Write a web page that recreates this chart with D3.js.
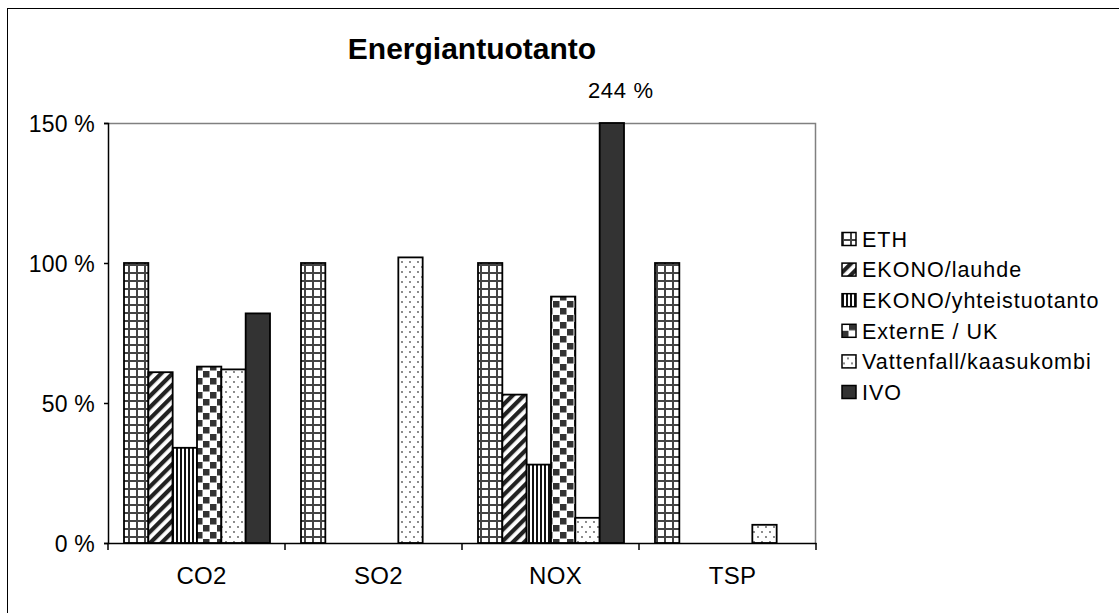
<!DOCTYPE html>
<html>
<head>
<meta charset="utf-8">
<script src="https://cdn.jsdelivr.net/npm/d3@7"></script>
<style>
  html, body { margin: 0; padding: 0; background: #fff; }
  svg { display: block; }
  text { font-family: "Liberation Sans", Arial, sans-serif; fill: #000; }
</style>
</head>
<body>
<script>
const categories = ["CO2", "SO2", "NOX", "TSP"];
const seriesNames = ["ETH", "EKONO/lauhde", "EKONO/yhteistuotanto", "ExternE / UK", "Vattenfall/kaasukombi", "IVO"];
const ethValues = [100, 100, 100, 100];
const lauhdeValues = [61, null, 53, null];
const yhteisValues = [34, null, 28, null];
const externValues = [63, null, 88, null];
const vattenfallValues = [62, 102, 9, 6.5];
const ivoValues = [82, null, 244, null];
const yTicks = [0, 50, 100, 150];
const yTickLabels = ["0 %", "50 %", "100 %", "150 %"];
const titleText = "Energiantuotanto";

const seriesValues = [ethValues, lauhdeValues, yhteisValues, externValues, vattenfallValues, ivoValues];
const patternIds = ["pEth", "pLauhde", "pYhteis", "pExtern", "pVatten", "pIvo"];

const W = 1119, H = 613;
const svg = d3.select("body").append("svg").attr("width", W).attr("height", H);

// patterns
const defs = svg.append("defs");
{
  const p = defs.append("pattern").attr("id", "pEth").attr("patternUnits", "userSpaceOnUse")
    .attr("width", 8).attr("height", 8);
  p.append("rect").attr("width", 8).attr("height", 8).attr("fill", "#fff");
  p.append("rect").attr("x", 0).attr("y", 0).attr("width", 8).attr("height", 2).attr("fill", "#444");
  p.append("rect").attr("x", 0).attr("y", 0).attr("width", 2).attr("height", 8).attr("fill", "#444");
}
{
  const p = defs.append("pattern").attr("id", "pLauhde").attr("patternUnits", "userSpaceOnUse")
    .attr("width", 8).attr("height", 8).attr("patternTransform", "rotate(45)");
  p.append("rect").attr("width", 8).attr("height", 8).attr("fill", "#fff");
  p.append("rect").attr("x", 0).attr("y", 0).attr("width", 4.2).attr("height", 8).attr("fill", "#222");
}
{
  const p = defs.append("pattern").attr("id", "pYhteis").attr("patternUnits", "userSpaceOnUse")
    .attr("width", 4).attr("height", 4);
  p.append("rect").attr("width", 4).attr("height", 4).attr("fill", "#fff");
  p.append("rect").attr("x", 0).attr("y", 0).attr("width", 2).attr("height", 4).attr("fill", "#111");
}
{
  const p = defs.append("pattern").attr("id", "pExtern").attr("patternUnits", "userSpaceOnUse")
    .attr("width", 14).attr("height", 14);
  p.append("rect").attr("width", 14).attr("height", 14).attr("fill", "#fff");
  p.append("rect").attr("x", 0).attr("y", 0).attr("width", 6.5).attr("height", 6.5).attr("fill", "#333");
  p.append("rect").attr("x", 7).attr("y", 7).attr("width", 6.5).attr("height", 6.5).attr("fill", "#333");
}
{
  const p = defs.append("pattern").attr("id", "pVatten").attr("patternUnits", "userSpaceOnUse")
    .attr("width", 8).attr("height", 10);
  p.append("rect").attr("width", 8).attr("height", 10).attr("fill", "#fff");
  p.append("circle").attr("cx", 2).attr("cy", 2).attr("r", 0.9).attr("fill", "#555");
  p.append("circle").attr("cx", 6).attr("cy", 7).attr("r", 0.9).attr("fill", "#555");
}
{
  const p = defs.append("pattern").attr("id", "pIvo").attr("patternUnits", "userSpaceOnUse")
    .attr("width", 4).attr("height", 4);
  p.append("rect").attr("width", 4).attr("height", 4).attr("fill", "#333");
}

// outer frame
svg.append("rect").attr("x", 7.5).attr("y", 8.5).attr("width", W + 20).attr("height", H + 20)
  .attr("fill", "none").attr("stroke", "#000").attr("stroke-width", 1);

// scales
const plotL = 108, plotR = 816, plotT = 123, plotB = 543;
const x0 = d3.scaleBand().domain(categories).range([plotL, plotR]).padding(0);
const x1 = d3.scaleBand().domain(seriesNames).range([16, x0.bandwidth() - 15]).padding(0);
const y = d3.scaleLinear().domain([0, 150]).range([plotB, plotT]);

// plot area border (gray top & right)
svg.append("path")
  .attr("d", `M${plotL},${plotT + 0.5}H${plotR - 0.5}V${plotB}`)
  .attr("fill", "none").attr("stroke", "#808080").attr("stroke-width", 1.5);

// bars
const barData = [];
seriesNames.forEach((s, si) => {
  categories.forEach((c, ci) => {
    const v = seriesValues[si][ci];
    if (v != null) barData.push({ s, si, c, v });
  });
});
svg.append("g").selectAll("rect").data(barData).join("rect")
  .attr("x", d => x0(d.c) + x1(d.s))
  .attr("y", d => y(Math.min(d.v, 150)))
  .attr("width", x1.bandwidth())
  .attr("height", d => y(0) - y(Math.min(d.v, 150)))
  .attr("fill", d => `url(#${patternIds[d.si]})`)
  .attr("stroke", "#000").attr("stroke-width", 1.8);

// overflow label
barData.filter(d => d.v > 150).forEach(d => {
  svg.append("text")
    .attr("x", x0(d.c) + x1(d.s) + x1.bandwidth() / 2 + 9)
    .attr("y", y(150) - 25)
    .attr("text-anchor", "middle")
    .attr("font-size", 22).attr("letter-spacing", 0.7)
    .text(`${d.v} %`);
});

// y axis
const yAxis = d3.axisLeft(y).tickValues(yTicks).tickSize(4).tickPadding(9)
  .tickFormat((d, i) => yTickLabels[i]);
const gy = svg.append("g").attr("transform", `translate(${plotL},0)`).call(yAxis);
gy.select(".domain").attr("stroke", "#000").attr("stroke-width", 1.5);
gy.selectAll(".tick line").attr("stroke", "#000").attr("stroke-width", 1.5);
gy.selectAll(".tick text").attr("font-size", 23).attr("letter-spacing", 0.2)
  .attr("font-family", "'Liberation Sans', Arial, sans-serif").attr("fill", "#000").attr("dy", "0.36em");

// x axis
const xAxis = d3.axisBottom(x0).tickSize(0).tickPadding(0);
const gx = svg.append("g").attr("transform", `translate(0,${plotB})`).call(xAxis);
gx.select(".domain").attr("stroke", "#000").attr("stroke-width", 1.5);
gx.selectAll(".tick text").attr("font-size", 24).attr("letter-spacing", 0.3)
  .attr("font-family", "'Liberation Sans', Arial, sans-serif").attr("fill", "#000")
  .attr("dy", 0).attr("y", 41).attr("x", 5);
// category separator ticks
const sepPositions = categories.map(c => x0(c)).concat([x0(categories[categories.length - 1]) + x0.bandwidth()]);
svg.append("g").selectAll("line").data(sepPositions).join("line")
  .attr("x1", d => d).attr("x2", d => d)
  .attr("y1", plotB).attr("y2", plotB + 7)
  .attr("stroke", "#000").attr("stroke-width", 1.5);

// title
svg.append("text")
  .attr("x", 472).attr("y", 59)
  .attr("text-anchor", "middle")
  .attr("font-size", 30).attr("font-weight", "bold")
  .text(titleText);

// legend
const legend = svg.append("g").attr("transform", "translate(842,239)");
const legItems = legend.selectAll("g").data(seriesNames).join("g")
  .attr("transform", (d, i) => `translate(0,${i * 30.6})`);
legItems.append("rect")
  .attr("x", 0).attr("y", -6.5).attr("width", 14).attr("height", 13)
  .attr("fill", (d, i) => `url(#${patternIds[i]})`)
  .attr("stroke", "#000").attr("stroke-width", 1.5);
legItems.append("text")
  .attr("x", 20).attr("y", 0).attr("dy", "0.36em")
  .attr("font-size", 21.5).attr("letter-spacing", 1.0)
  .text(d => d);
</script>
</body>
</html>
